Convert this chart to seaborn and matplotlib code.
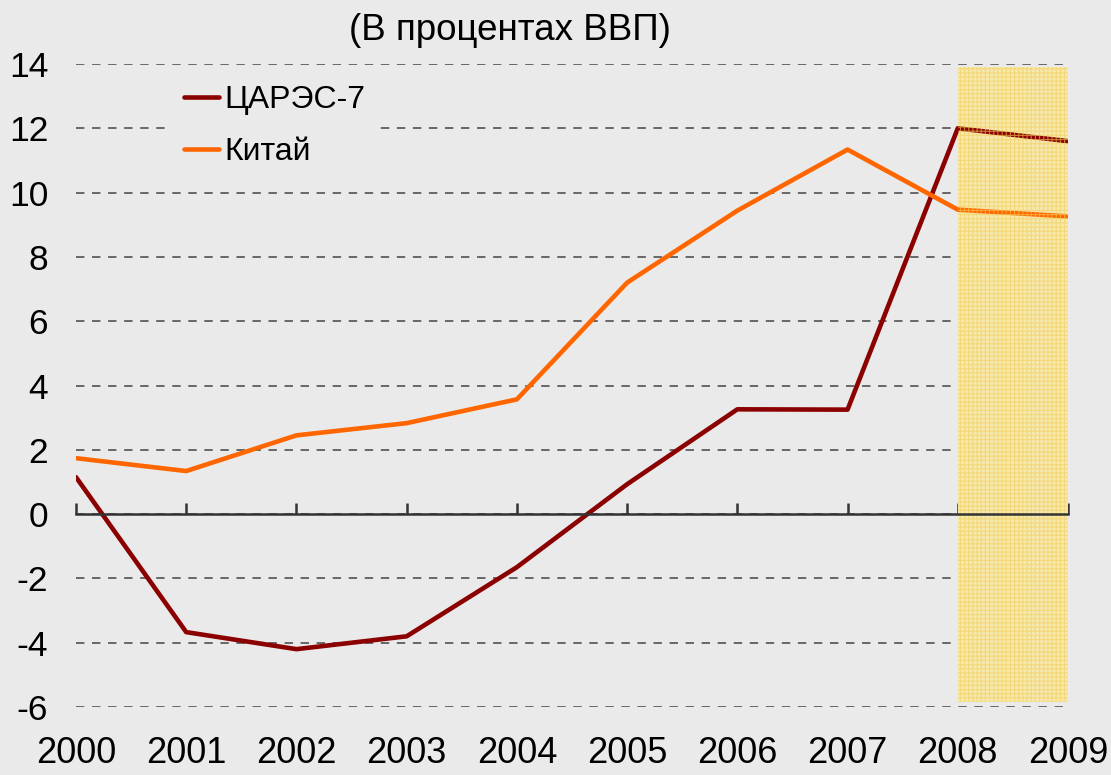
import pandas as pd
import matplotlib
matplotlib.use("Agg")
import matplotlib.pyplot as plt
import seaborn as sns

# Данные (сальдо текущего счета, в процентах ВВП)
years = [2000, 2001, 2002, 2003, 2004, 2005, 2006, 2007, 2008, 2009]
careс7 = [1.15, -3.67, -4.2, -3.8, -1.65, 0.93, 3.26, 3.25, 12.0, 11.6]
china = [1.74, 1.34, 2.45, 2.83, 3.57, 7.2, 9.44, 11.34, 9.47, 9.26]
series_names = ["ЦАРЭС-7", "Китай"]
series_colors = ["#8B0000", "#FF6600"]
yticks = [-6, -4, -2, 0, 2, 4, 6, 8, 10, 12, 14]
title = "(В процентах ВВП)"
# прогнозный период
shade_years = [2008, 2009]
shade_low, shade_high = -5.85, 13.9

df = pd.DataFrame({
    "year": years * 2,
    "value": careс7 + china,
    "series": [series_names[0]] * len(years) + [series_names[1]] * len(years),
})

sns.set_theme(style="white")
plt.rcParams['font.family'] = ['Liberation Sans', 'DejaVu Sans']
plt.rcParams['hatch.linewidth'] = 0.8
plt.rcParams['axes.unicode_minus'] = False
plt.rcParams['text.color'] = 'black'
plt.rcParams['xtick.color'] = 'black'
plt.rcParams['ytick.color'] = 'black'
bg = "#EAEAEA"

fig = plt.figure(figsize=(11.11, 7.75), dpi=100, facecolor=bg)
ax = fig.add_axes([0.0684, 0.0877, 0.8929, 0.8297], facecolor=bg)

ax.fill_between(shade_years, shade_low, shade_high, facecolor="#F6E8AE",
                edgecolor="none", zorder=1)
sns.lineplot(data=df, x="year", y="value", hue="series", palette=series_colors,
             linewidth=3.3, ax=ax, zorder=2)
ax.fill_between(shade_years, shade_low, shade_high, facecolor="none",
                edgecolor="#F2CF55", hatch="++++", linewidth=0, alpha=0.6, zorder=3)

ax.set_xlim(2000, 2009)
ax.set_ylim(-6, 14)
ax.set_yticks(yticks)
ax.set_xticks(years)
ax.set_xlabel("")
ax.set_ylabel("")

for s in ["top", "right", "left"]:
    ax.spines[s].set_visible(False)
ax.spines["bottom"].set_position(("data", 0))
ax.spines["bottom"].set_color("#333333")
ax.spines["bottom"].set_linewidth(1.8)
ax.spines["bottom"].set_zorder(4)
ax.tick_params(axis="x", direction="in", length=8, width=1.8, color="#333333",
               labelbottom=False, bottom=True)
ax.tick_params(axis="y", length=0, pad=20, labelsize=25.5, labelcolor="black")
ax.yaxis.grid(True, linestyle=(0, (5.5, 5)), color="#444444", linewidth=1.1)
ax.xaxis.grid(False)

sec = ax.secondary_xaxis("bottom")
sec.set_xticks(years)
sec.set_xticklabels([str(y) for y in years])
sec.tick_params(length=0, pad=21, labelsize=26, labelcolor="black")
sec.spines["bottom"].set_visible(False)

leg = ax.legend(loc="upper left", bbox_to_anchor=(0.08, 1.012), fontsize=23,
                frameon=True, facecolor=bg, edgecolor=bg, framealpha=1,
                handlelength=1.1, handletextpad=0.15, labelspacing=0.7,
                borderpad=0.4, fancybox=False)
leg.set_zorder(5)
for line in leg.get_lines():
    line.set_linewidth(3.3)

fig.text(510 / 1111, 1 - 30 / 775, title, ha="center", va="center", fontsize=26.5)

fig.savefig("out.png", dpi=100, facecolor=bg)
